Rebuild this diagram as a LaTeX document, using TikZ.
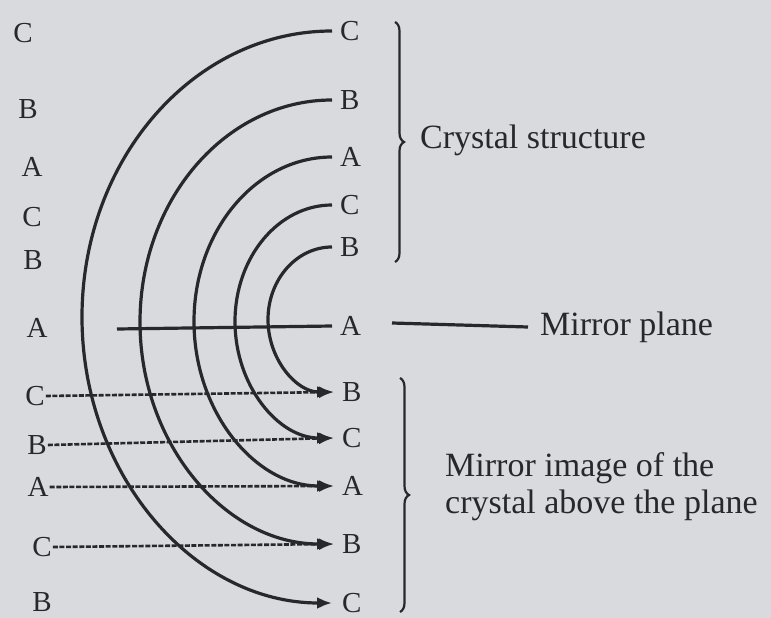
\documentclass[tikz,border=0pt]{standalone}
\usepackage{fontspec}
\setmainfont{Liberation Serif}
\usetikzlibrary{arrows.meta,decorations.pathreplacing}
\definecolor{paper}{RGB}{216,218,222}
\definecolor{ink}{RGB}{40,40,44}
\begin{document}
\begin{tikzpicture}[x=1pt,y=-1pt,
  lab/.style={font=\fontsize{29}{29}\selectfont, text=ink, inner sep=1pt},
  rlab/.style={lab, anchor=west},
  txt/.style={font=\fontsize{34}{37}\selectfont, text=ink, inner sep=0pt, anchor=west, align=left},
  arcline/.style={draw=ink, line width=3.2pt, -{Latex[length=15pt,width=12pt]}},
  dashline/.style={draw=ink, line width=2.6pt, dash pattern=on 5pt off 1.6pt, -{Latex[length=15pt,width=12pt]}},
  plane/.style={draw=ink, line width=3.2pt},
  bracestyle/.style={draw=ink, line width=2.2pt, decorate, decoration={brace, amplitude=9pt}}]
\fill[paper] (0,0) rectangle (771,618);
\useasboundingbox (0,0) rectangle (771,618);

% left column
\node[lab] (l1)  at (23,33)  {C};
\node[lab] (l2)  at (28,109) {B};
\node[lab] (l3)  at (32,167) {A};
\node[lab] (l4)  at (32,217) {C};
\node[lab] (l5)  at (33,260) {B};
\node[lab] (l6)  at (37,328) {A};
\node[lab] (l7)  at (35,396) {C};
\node[lab] (l8)  at (37,445) {B};
\node[lab] (l9)  at (38,487) {A};
\node[lab] (l10) at (42,547) {C};
\node[lab] (l11) at (42,602) {B};

% right column
\node[rlab] (r1)  at (339,31)  {C};
\node[rlab] (r2)  at (339,100) {B};
\node[rlab] (r3)  at (339,157) {A};
\node[rlab] (r4)  at (339,205) {C};
\node[rlab] (r5)  at (339,247) {B};
\node[rlab] (r6)  at (339,326) {A};
\node[rlab] (r7)  at (341,392) {B};
\node[rlab] (r8)  at (341,438) {C};
\node[rlab] (r9)  at (341,486) {A};
\node[rlab] (r10) at (341,544) {B};
\node[rlab] (r11) at (341,603) {C};

% arcs
\draw[arcline] ([xshift=-7pt]r1.west) arc[start angle=90, end angle=270, x radius=250pt, y radius=286pt];
\draw[arcline] ([xshift=-7pt]r2.west) arc[start angle=90, end angle=270, x radius=192pt, y radius=222pt];
\draw[arcline] ([xshift=-7pt]r3.west) arc[start angle=90, end angle=270, x radius=138pt, y radius=164.5pt];
\draw[arcline] ([xshift=-7pt]r4.west) arc[start angle=90, end angle=270, x radius=97pt, y radius=116.5pt];
\draw[arcline] ([xshift=-7pt]r5.west) arc[start angle=90, end angle=270, x radius=64pt, y radius=72.5pt];

% mirror plane through the arcs
\coordinate (pstart) at (117,329);
\draw[plane] (pstart) -- ([xshift=-7pt]r6.west);

% dashed arrows
\draw[dashline] (l7.east) -- ([xshift=-7pt]r7.west);
\draw[dashline] (l8.east) -- ([xshift=-7pt]r8.west);
\draw[dashline] (l9.east) -- ([xshift=-7pt]r9.west);
\draw[dashline] (l10.east) -- ([xshift=-7pt]r10.west);

% braces and texts
\draw[bracestyle] (395,22) -- (395,262);
\draw[bracestyle] (400,378) -- (400,612);
\node[txt] (cs) at (420,140) {Crystal structure};
\node[txt] (mp) at (540,327) {Mirror plane};
\coordinate (mstart) at (392,323);
\draw[plane] (mstart) -- ([xshift=-12pt]mp.west);
\node[txt] (mi) at (445,487) {Mirror image of the\\crystal above the plane};
\end{tikzpicture}
\end{document}
